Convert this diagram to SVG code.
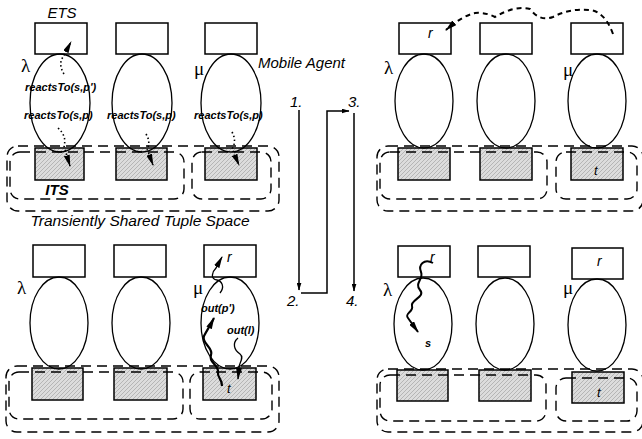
<svg xmlns="http://www.w3.org/2000/svg" width="642" height="439" viewBox="0 0 642 439">
<style>
.bx{fill:#fff;stroke:#000;stroke-width:1.5}
.its{fill:url(#stip);stroke:#000;stroke-width:1.5}
.el{fill:none;stroke:#000;stroke-width:1.3}
.ds{fill:none;stroke:#000;stroke-width:1.4;stroke-dasharray:10 6}
.t{font-family:"Liberation Sans",Arial,sans-serif;font-style:italic;fill:#000}
.g{font-family:"Liberation Serif","Times New Roman",serif;font-size:19px;fill:#000}
.ln{fill:none;stroke:#000;stroke-width:1.5}
.dot{fill:none;stroke:#000;stroke-width:1.6;stroke-dasharray:1.5 2.5}
.wv{fill:none;stroke:#000}
</style>
<defs>
<pattern id="stip" width="4" height="4" patternUnits="userSpaceOnUse">
<rect width="4" height="4" fill="#dcdcdc"/>
<path d="M0 4L4 0" stroke="#9a9a9a" stroke-width="0.6"/>
</pattern>
<marker id="ah" viewBox="0 0 12 6" refX="11" refY="3" markerWidth="12" markerHeight="6" orient="auto" markerUnits="userSpaceOnUse">
<path d="M0,0L12,3L0,6z" fill="#000"/>
</marker>
<marker id="as" viewBox="0 0 8 5" refX="7.5" refY="2.5" markerWidth="8" markerHeight="5" orient="auto" markerUnits="userSpaceOnUse">
<path d="M0,0L8,2.5L0,5z" fill="#000"/>
</marker>
</defs>

<!-- Top-left panel -->
<text class="t" x="62" y="18" font-size="15" text-anchor="middle">ETS</text>
<g id="tl-lambda">
<rect class="bx" x="35" y="23" width="52" height="31"/>
<rect class="its" x="35" y="148" width="49" height="32"/>
<text class="g" x="21" y="72">λ</text>
<text class="t" x="25" y="91" font-size="11" font-weight="bold">reactsTo(s,p')</text>
<text class="t" x="24" y="119" font-size="11" font-weight="bold">reactsTo(s,p)</text>
<ellipse class="el" cx="60" cy="103" rx="30" ry="49"/>
</g>
<g id="tl-mid">
<rect class="bx" x="116" y="23" width="52" height="31"/>
<rect class="its" x="116" y="148" width="51" height="32"/>
<text class="t" x="107" y="119" font-size="11" font-weight="bold">reactsTo(s,p)</text>
<ellipse class="el" cx="142" cy="103" rx="30" ry="49"/>
</g>
<g id="tl-mu">
<rect class="bx" x="205" y="23" width="52" height="31"/>
<rect class="its" x="205" y="148" width="52" height="32"/>
<text class="g" x="194" y="75">μ</text>
<text class="t" x="194" y="119" font-size="11" font-weight="bold">reactsTo(s,p)</text>
<ellipse class="el" cx="231" cy="103" rx="30" ry="49"/>
</g>
<text class="t" x="258" y="68" font-size="15">Mobile Agent</text>
<g id="tl-tuplespace">
<rect class="ds" x="7" y="146" width="272" height="65" rx="11"/>
<rect class="ds" x="10" y="152" width="174" height="47" rx="10"/>
<rect class="ds" x="192" y="152" width="79" height="47" rx="10"/>
<text class="t" x="57" y="195" font-size="15" font-weight="bold" text-anchor="middle">ITS</text>
</g>
<text class="t" x="140" y="226" font-size="15.5" text-anchor="middle">Transiently Shared Tuple Space</text>

<!-- Top-right panel -->
<g id="tr-lambda">
<rect class="bx" x="399" y="23" width="52" height="31"/>
<rect class="its" x="398" y="148" width="52" height="32"/>
<text class="g" x="384" y="74">λ</text>
<text class="t" x="428" y="38" font-size="14">r</text>
<ellipse class="el" cx="424" cy="101" rx="29" ry="47"/>
</g>
<g id="tr-mid">
<rect class="bx" x="480" y="23" width="52" height="31"/>
<rect class="its" x="480" y="148" width="52" height="32"/>
<ellipse class="el" cx="506" cy="101" rx="29" ry="47"/>
</g>
<g id="tr-mu">
<rect class="bx" x="571" y="23" width="52" height="31"/>
<rect class="its" x="571" y="148" width="52" height="32"/>
<text class="g" x="563" y="76">μ</text>
<text class="t" x="594" y="175" font-size="13">t</text>
<ellipse class="el" cx="597" cy="101" rx="29" ry="47"/>
</g>
<g id="tr-tuplespace">
<rect class="ds" x="377" y="146" width="266" height="65" rx="11"/>
<rect class="ds" x="380" y="152" width="167" height="47" rx="10"/>
<rect class="ds" x="556" y="152" width="81" height="47" rx="10"/>
</g>

<!-- Bottom-left panel -->
<g id="bl-lambda">
<rect class="bx" x="33" y="245" width="52" height="32"/>
<rect class="its" x="32" y="368" width="51" height="32"/>
<text class="g" x="17" y="294">λ</text>
<ellipse class="el" cx="59" cy="323" rx="29" ry="46"/>
</g>
<g id="bl-mid">
<rect class="bx" x="114" y="245" width="52" height="32"/>
<rect class="its" x="114" y="368" width="53" height="32"/>
<ellipse class="el" cx="141" cy="323" rx="29" ry="46"/>
</g>
<g id="bl-mu">
<rect class="bx" x="204" y="245" width="52" height="32"/>
<rect class="its" x="203" y="368" width="53" height="32"/>
<text class="g" x="193" y="294">μ</text>
<text class="t" x="227" y="262" font-size="14">r</text>
<text class="t" x="201" y="312" font-size="11" font-weight="bold">out(p')</text>
<text class="t" x="227" y="334" font-size="11" font-weight="bold">out(l)</text>
<text class="t" x="227" y="393" font-size="13">t</text>
<ellipse class="el" cx="230" cy="323" rx="29" ry="46"/>
</g>
<g id="bl-tuplespace">
<rect class="ds" x="6" y="366" width="273" height="66" rx="11"/>
<rect class="ds" x="9" y="372" width="174" height="47" rx="10"/>
<rect class="ds" x="190" y="372" width="82" height="47" rx="10"/>
</g>

<!-- Bottom-right panel -->
<g id="br-lambda">
<rect class="bx" x="398" y="246" width="52" height="31"/>
<rect class="its" x="397" y="370" width="51" height="31"/>
<text class="g" x="383" y="296">λ</text>
<text class="t" x="430" y="262" font-size="14">r</text>
<text class="t" x="425" y="347" font-size="11" font-weight="bold">s</text>
<ellipse class="el" cx="423" cy="324" rx="29" ry="46"/>
</g>
<g id="br-mid">
<rect class="bx" x="478" y="246" width="52" height="31"/>
<rect class="its" x="479" y="370" width="52" height="31"/>
<ellipse class="el" cx="505" cy="324" rx="29" ry="46"/>
</g>
<g id="br-mu">
<rect class="bx" x="572" y="248" width="51" height="31"/>
<rect class="its" x="572" y="372" width="52" height="31"/>
<text class="g" x="563" y="294">μ</text>
<text class="t" x="597" y="266" font-size="14">r</text>
<text class="t" x="597" y="397" font-size="13">t</text>
<ellipse class="el" cx="597" cy="325" rx="29" ry="46"/>
</g>
<g id="br-tuplespace">
<rect class="ds" x="377" y="369" width="266" height="63" rx="11"/>
<rect class="ds" x="380" y="375" width="166" height="46" rx="10"/>
<rect class="ds" x="556" y="378" width="81" height="43" rx="10"/>
</g>

<!-- Step labels -->
<g id="steps">
<text class="t" x="290" y="107" font-size="15">1.</text>
<text class="t" x="287" y="306" font-size="15">2.</text>
<text class="t" x="348" y="107" font-size="15">3.</text>
<text class="t" x="346" y="306" font-size="15">4.</text>
</g>

<!-- Connectors -->
<g id="connectors">
<path class="ln" d="M299 110V290" marker-end="url(#as)"/>
<path class="ln" d="M301 293H327V111H349" marker-end="url(#as)"/>
<path class="ln" d="M354 113V291" marker-end="url(#as)"/>

<path class="dot" d="M64 74Q58 64 63 57L71 42" marker-end="url(#ah)"/>
<path class="dot" d="M58 128Q67 136 64 146L70 166" marker-end="url(#ah)"/>
<path class="dot" d="M146 134Q151 142 147 149L153 165" marker-end="url(#ah)"/>
<path class="dot" d="M232 132Q237 141 232 149L239 165" marker-end="url(#ah)"/>

<path class="wv" stroke-width="2" stroke-dasharray="5 4" d="M613 34Q605 12 590 10Q570 8 553 17Q540 22 530 9Q515 5 495 17Q485 12 475 13Q462 16 446 30" marker-end="url(#ah)"/>
<path class="wv" stroke-width="2" d="M433 263C424 258 418 265 421 272C424 279 414 283 420 290C426 297 410 300 412 306C414 312 404 313 408 318L418 332" marker-end="url(#ah)"/>

<path class="wv" stroke-width="1.3" d="M220 293C225 287 222 281 217 280C210 279 212 272 216 268L222 257" marker-end="url(#ah)"/>
<path class="wv" stroke-width="2.2" d="M222 386C222 378 217 378 218 372C219 365 208 362 211 355C214 348 201 343 204 336C207 330 210 326 214 318" marker-end="url(#ah)"/>
<path class="wv" stroke-width="1.3" d="M238 338C232 343 234 350 240 354C245 358 238 364 239 368L238 379" marker-end="url(#ah)"/>
</g>
</svg>
